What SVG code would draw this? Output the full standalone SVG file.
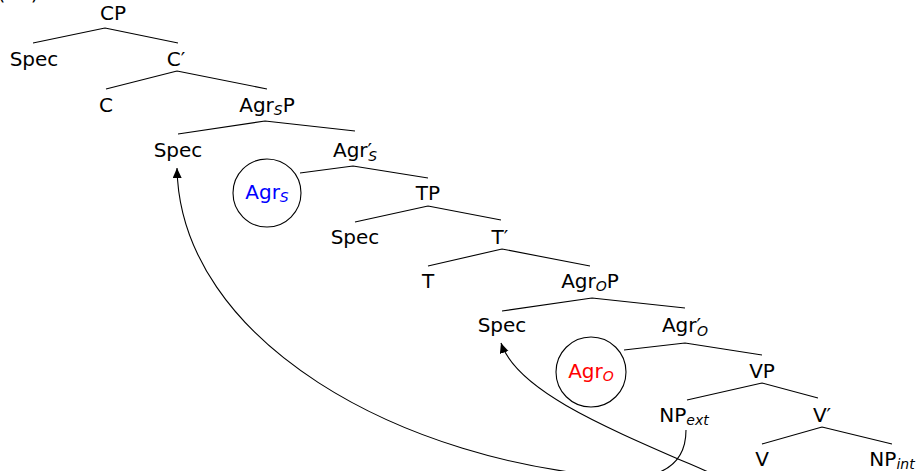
<svg xmlns="http://www.w3.org/2000/svg" width="920" height="471" viewBox="0 0 920 471">
<style>
text{font-family:"DejaVu Sans","Liberation Sans",sans-serif;font-size:20px;fill:#000;text-anchor:middle}
.sub{font-size:14px;font-style:italic}
.edge{stroke:#000;stroke-width:1.1;fill:none}
.move{stroke:#000;stroke-width:1.1;fill:none;marker-end:url(#ah)}
.ring{fill:#fff;stroke:#000;stroke-width:1.1}
</style>
<defs>
<marker id="ah" markerUnits="userSpaceOnUse" markerWidth="12" markerHeight="10" refX="10" refY="4.5" orient="auto">
<path d="M0,0 L10,4.5 L0,9 Z" fill="#000"/>
</marker>
</defs>
<rect width="920" height="471" fill="#fff"/>
<text x="18" y="0">(15)</text>
<g id="connectors">
<path class="edge" d="M105,28 L33,43 M105,28 L178,43"/>
<path class="edge" d="M177,71 L106,89 M177,71 L267,89"/>
<path class="edge" d="M265,121 L178,134 M265,121 L355,131"/>
<path class="edge" d="M353,166 L300,173 M353,166 L428,178"/>
<path class="edge" d="M428,206 L355,222 M428,206 L501,220"/>
<path class="edge" d="M502,249 L428,266 M502,249 L590,266"/>
<path class="edge" d="M592,298 L502,311 M592,298 L685,308"/>
<path class="edge" d="M685,343 L624,350 M685,343 L762,355"/>
<path class="edge" d="M762,383 L687,400 M762,383 L818,398"/>
<path class="edge" d="M822,427 L762,444 M822,427 L892,444"/>
<path class="move" d="M686,430 C686,458 670,476 630,478 C400,465 180,340 177,168"/>
<path class="move" d="M760,495 C640,440 520,400 501,343"/>
</g>
<g id="CP"><text x="113" y="20">CP</text></g>
<g id="Spec1"><text x="34" y="66">Spec</text></g>
<g id="Cbar"><text x="176" y="66">C′</text></g>
<g id="C"><text x="106" y="112">C</text></g>
<g id="AgrSP"><text x="267" y="112">Agr<tspan class="sub" dy="3">S</tspan><tspan dy="-3">P</tspan></text></g>
<g id="Spec2"><text x="178" y="157">Spec</text></g>
<g id="AgrSbar"><text x="355" y="157">Agr′<tspan class="sub" dx="-4" dy="4">S</tspan></text></g>
<g id="AgrS"><circle class="ring" cx="267" cy="193" r="34"/><text x="267" y="199" style="fill:#0000ff">Agr<tspan class="sub" dy="3" style="fill:#0000ff">S</tspan></text></g>
<g id="TP"><text x="428" y="200">TP</text></g>
<g id="Spec3"><text x="355" y="244">Spec</text></g>
<g id="Tbar"><text x="500" y="244">T′</text></g>
<g id="T"><text x="428" y="288">T</text></g>
<g id="AgrOP"><text x="590" y="288">Agr<tspan class="sub" dy="3">O</tspan><tspan dy="-3">P</tspan></text></g>
<g id="Spec4"><text x="502" y="332">Spec</text></g>
<g id="AgrObar"><text x="685" y="332">Agr′<tspan class="sub" dx="-4" dy="4">O</tspan></text></g>
<g id="AgrO"><circle class="ring" cx="591" cy="372" r="35"/><text x="591" y="378" style="fill:#ff0000">Agr<tspan class="sub" dy="3" style="fill:#ff0000">O</tspan></text></g>
<g id="VP"><text x="762" y="378">VP</text></g>
<g id="NPext"><text x="684" y="422">NP<tspan class="sub" dy="3">ext</tspan></text></g>
<g id="Vbar"><text x="822" y="422">V′</text></g>
<g id="V"><text x="762" y="466">V</text></g>
<g id="NPint"><text x="892" y="466">NP<tspan class="sub" dy="3">int</tspan></text></g>
</svg>
